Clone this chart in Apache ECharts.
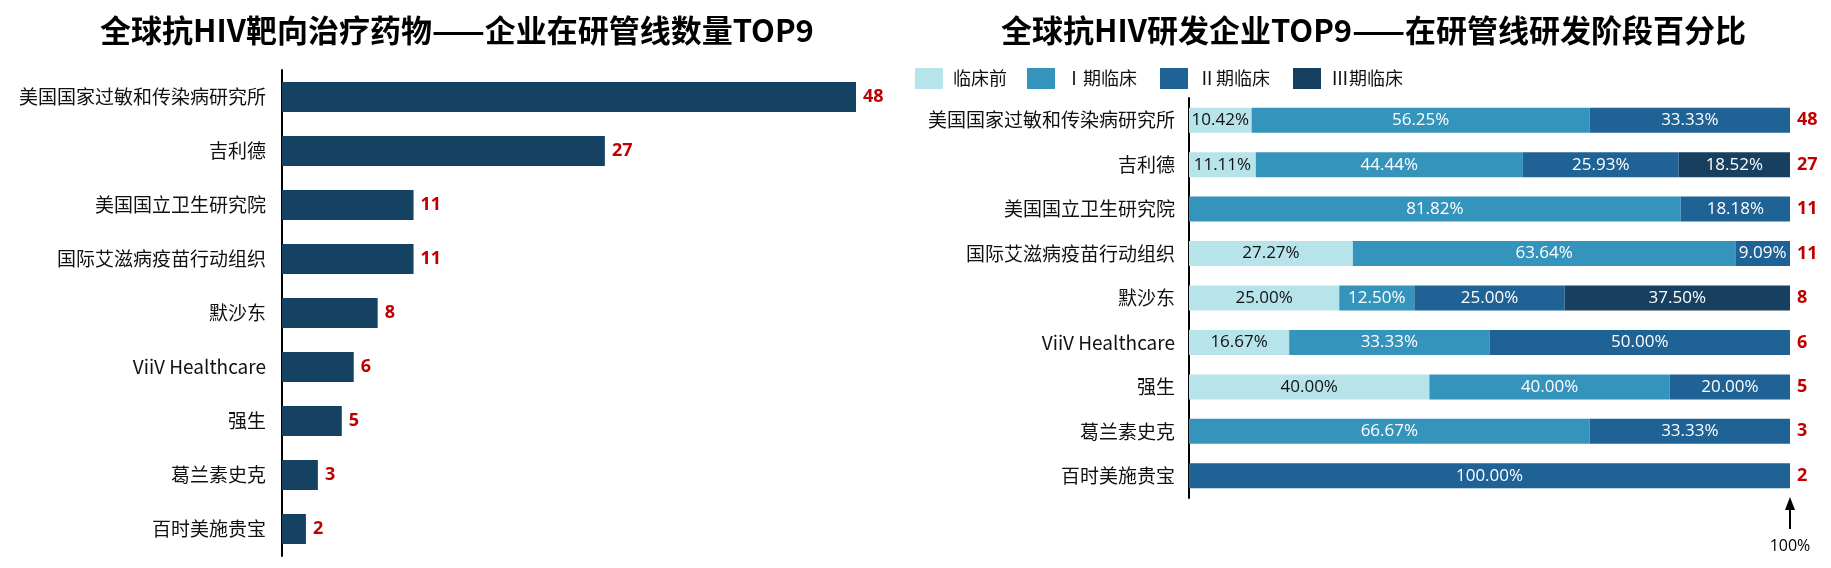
<!DOCTYPE html>
<html>
<head>
<meta charset="utf-8">
<title>全球抗HIV研发企业TOP9</title>
<script src="https://cdn.jsdelivr.net/npm/echarts@6/dist/echarts.min.js"></script>
<style>
  html, body { margin: 0; padding: 0; background: #fff; }
  #main { width: 1831px; height: 568px; }
</style>
</head>
<body>
<div id="main"></div>
<script>
// 企业（按在研管线数量排序）
const companies = ['美国国家过敏和传染病研究所', '吉利德', '美国国立卫生研究院', '国际艾滋病疫苗行动组织',
  '默沙东', 'ViiV Healthcare', '强生', '葛兰素史克', '百时美施贵宝'];
// 在研管线数量
const pipelineCounts = [48, 27, 11, 11, 8, 6, 5, 3, 2];
// 各研发阶段占比 (%)
const stageNames = ['临床前', 'Ⅰ期临床', 'Ⅱ期临床', 'Ⅲ期临床'];
const preclinical = [10.42, 11.11, 0, 27.27, 25.00, 16.67, 40.00, 0, 0];
const phase1 = [56.25, 44.44, 81.82, 63.64, 12.50, 33.33, 40.00, 66.67, 0];
const phase2 = [33.33, 25.93, 18.18, 9.09, 25.00, 50.00, 20.00, 33.33, 100.00];
const phase3 = [0, 18.52, 0, 0, 37.50, 0, 0, 0, 0];

const stageData = [preclinical, phase1, phase2, phase3];
const stageColors = ['#b7e4ea', '#3594bb', '#1f6295', '#173f5f'];
const stageLabelColors = ['#111', '#fff', '#fff', '#fff'];
const legendLeft = [915, 1027, 1160, 1293];

const cjk = '"Noto Sans CJK SC", sans-serif';
const latin = '"Open Sans", "Noto Sans CJK SC", sans-serif';
const red = '#c00000';

const chart = echarts.init(document.getElementById('main'));

const catAxisLabel = {
  color: '#111',
  fontSize: 19,
  fontFamily: cjk
};

chart.setOption({
  animation: false,
  title: [{
    text: '全球抗HIV靶向治疗药物——企业在研管线数量TOP9',
    left: 95,
    top: 10,
    textStyle: { fontSize: 31, fontWeight: 'bold', color: '#000', fontFamily: cjk }
  }, {
    text: '全球抗HIV研发企业TOP9——在研管线研发阶段百分比',
    left: 996,
    top: 10,
    textStyle: { fontSize: 31, fontWeight: 'bold', color: '#000', fontFamily: cjk }
  }],
  legend: stageNames.map((name, i) => ({
    data: [name],
    left: legendLeft[i],
    top: 68,
    icon: 'rect',
    itemWidth: 28,
    itemHeight: 21,
    padding: 0,
    textStyle: { fontSize: 18, color: '#111', fontFamily: cjk, padding: [0, 0, 0, 5] }
  })),
  grid: [
    { left: 282, top: 70, width: 574, height: 486 },
    { left: 1189, top: 98, width: 601, height: 400 }
  ],
  xAxis: [
    { gridIndex: 0, type: 'value', min: 0, max: 48, show: false },
    { gridIndex: 1, type: 'value', min: 0, max: 100, show: false }
  ],
  yAxis: [{
    gridIndex: 0,
    type: 'category',
    inverse: true,
    data: companies,
    axisLine: { lineStyle: { color: '#000', width: 2 } },
    axisTick: { show: false },
    axisLabel: Object.assign({ margin: 16 }, catAxisLabel)
  }, {
    gridIndex: 1,
    type: 'category',
    inverse: true,
    data: companies,
    axisLine: { lineStyle: { color: '#000', width: 2 } },
    axisTick: { show: false },
    axisLabel: Object.assign({ margin: 14 }, catAxisLabel)
  }, {
    // 右侧总数
    gridIndex: 1,
    type: 'category',
    position: 'right',
    inverse: true,
    data: pipelineCounts.map(String),
    axisLine: { show: false },
    axisTick: { show: false },
    axisLabel: { margin: 7, color: red, fontSize: 18, fontWeight: 'bold', fontFamily: latin }
  }],
  series: [{
    name: '在研管线数量',
    type: 'bar',
    xAxisIndex: 0,
    yAxisIndex: 0,
    data: pipelineCounts,
    barWidth: 30,
    itemStyle: { color: '#154263' },
    label: {
      show: true,
      position: 'right',
      distance: 7,
      color: red,
      fontSize: 18,
      fontWeight: 'bold',
      fontFamily: latin
    }
  }].concat(stageNames.map((name, i) => ({
    name: name,
    type: 'bar',
    stack: 'stage',
    xAxisIndex: 1,
    yAxisIndex: 1,
    data: stageData[i],
    barWidth: 25,
    itemStyle: { color: stageColors[i] },
    label: {
      show: true,
      position: 'inside',
      color: stageLabelColors[i],
      fontSize: 17,
      fontFamily: latin,
      formatter: p => p.value ? p.value.toFixed(2) + '%' : ''
    }
  })))
});

// 100% 标注箭头
const tip = chart.convertToPixel({ gridIndex: 1 }, [100, companies[companies.length - 1]]);
const gridBottom = 98 + 400;
chart.setOption({
  graphic: [{
    type: 'line',
    shape: { x1: tip[0], y1: gridBottom + 10, x2: tip[0], y2: gridBottom + 31 },
    style: { stroke: '#000', lineWidth: 2 }
  }, {
    type: 'polygon',
    shape: { points: [[tip[0], gridBottom - 1], [tip[0] - 5, gridBottom + 12], [tip[0] + 5, gridBottom + 12]] },
    style: { fill: '#000' }
  }, {
    type: 'text',
    x: tip[0],
    y: gridBottom + 48,
    style: {
      text: '100%',
      fill: '#000',
      fontSize: 16,
      fontFamily: latin,
      align: 'center',
      verticalAlign: 'middle'
    }
  }]
});
</script>
</body>
</html>
